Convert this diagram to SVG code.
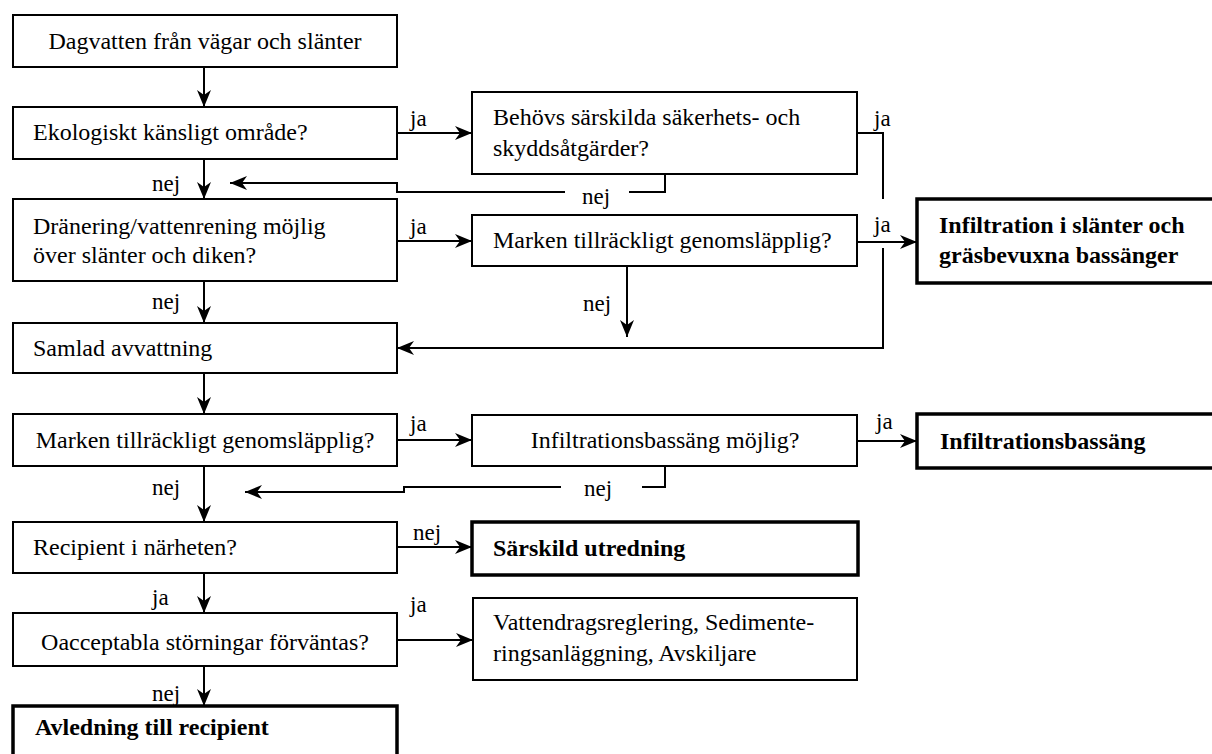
<svg xmlns="http://www.w3.org/2000/svg" width="1212" height="754" viewBox="0 0 1212 754">
<style>
.box{fill:#fff;stroke:#000;stroke-width:2}
.bold{fill:#fff;stroke:#000;stroke-width:3.5}
.t{font-family:"Liberation Serif",serif;font-size:24px;fill:#000}
.tb{font-family:"Liberation Serif",serif;font-size:24px;font-weight:bold;fill:#000}
.lbl{font-family:"Liberation Serif",serif;font-size:23px;fill:#000}
.c{fill:none;stroke:#000;stroke-width:2}
.ca{fill:none;stroke:#000;stroke-width:2;marker-end:url(#ah)}
</style>
<defs>
<marker id="ah" markerUnits="userSpaceOnUse" markerWidth="17" markerHeight="14" refX="17" refY="7" orient="auto">
<path d="M0,0 L17,7 L0,14 L5,7 z" fill="#000"/>
</marker>
</defs>
<rect width="1212" height="754" fill="#fff"/>
<g id="n1"><rect class="box" x="13" y="15" width="384" height="52"/><text class="t" x="205" y="49" text-anchor="middle">Dagvatten från vägar och slänter</text></g>
<g id="n2"><rect class="box" x="13" y="107" width="384" height="52"/><text class="t" x="33" y="140">Ekologiskt känsligt område?</text></g>
<g id="n3"><rect class="box" x="472" y="92" width="385" height="82"/><text class="t" x="493" y="125">Behövs särskilda säkerhets- och</text><text class="t" x="493" y="156">skyddsåtgärder?</text></g>
<g id="n4"><rect class="box" x="13" y="199" width="384" height="82"/><text class="t" x="33" y="234">Dränering/vattenrening möjlig</text><text class="t" x="33" y="263">över slänter och diken?</text></g>
<g id="n5"><rect class="box" x="472" y="215" width="385" height="51"/><text class="t" x="493" y="248">Marken tillräckligt genomsläpplig?</text></g>
<g id="n6"><rect class="bold" x="917" y="199" width="310" height="84"/><text class="tb" x="939" y="233">Infiltration i slänter och</text><text class="tb" x="939" y="263">gräsbevuxna bassänger</text></g>
<g id="n7"><rect class="box" x="13" y="323" width="384" height="50"/><text class="t" x="33" y="356">Samlad avvattning</text></g>
<g id="n8"><rect class="box" x="13" y="414" width="384" height="52"/><text class="t" x="205" y="448" text-anchor="middle">Marken tillräckligt genomsläpplig?</text></g>
<g id="n9"><rect class="box" x="472" y="415" width="385" height="51"/><text class="t" x="665" y="448" text-anchor="middle">Infiltrationsbassäng möjlig?</text></g>
<g id="n10"><rect class="bold" x="917" y="414" width="310" height="54"/><text class="tb" x="940" y="449">Infiltrationsbassäng</text></g>
<g id="n11"><rect class="box" x="13" y="522" width="384" height="51"/><text class="t" x="33" y="555">Recipient i närheten?</text></g>
<g id="n12"><rect class="bold" x="472" y="522" width="386" height="53"/><text class="tb" x="493" y="556">Särskild utredning</text></g>
<g id="n13"><rect class="box" x="13" y="613" width="384" height="53"/><text class="t" x="205" y="650" text-anchor="middle">Oacceptabla störningar förväntas?</text></g>
<g id="n14"><rect class="box" x="473" y="598" width="384" height="82"/><text class="t" x="493" y="630">Vattendragsreglering, Sedimente-</text><text class="t" x="493" y="661">ringsanläggning, Avskiljare</text></g>
<g id="n15"><rect class="bold" x="13" y="706" width="384" height="60"/><text class="tb" x="35" y="735">Avledning till recipient</text></g>
<g id="connectors">
<path class="ca" d="M204,67 V107"/>
<path class="ca" d="M397,133 H472"/>
<path class="ca" d="M204,159 V199"/>
<path class="c" d="M665,174 V192 H629"/>
<path class="ca" d="M565,192 H397 V183 H230"/>
<path class="c" d="M857,133 H883 V199"/>
<path class="ca" d="M397,241 H472"/>
<path class="ca" d="M857,242 H917"/>
<path class="ca" d="M883,248 V348 H397"/>
<path class="ca" d="M627,266 V337"/>
<path class="ca" d="M204,281 V323"/>
<path class="ca" d="M204,373 V414"/>
<path class="ca" d="M397,440 H472"/>
<path class="ca" d="M857,441 H917"/>
<path class="c" d="M665,466 V487 H642"/>
<path class="ca" d="M561,487 H404 V492 H245"/>
<path class="ca" d="M204,466 V522"/>
<path class="ca" d="M397,547 H472"/>
<path class="ca" d="M204,573 V613"/>
<path class="ca" d="M397,640 H473"/>
<path class="ca" d="M204,666 V706"/>
<text class="lbl" x="410" y="126">ja</text>
<text class="lbl" x="152" y="191">nej</text>
<text class="lbl" x="582" y="204">nej</text>
<text class="lbl" x="874" y="126">ja</text>
<text class="lbl" x="410" y="234">ja</text>
<text class="lbl" x="874" y="232">ja</text>
<text class="lbl" x="583" y="311">nej</text>
<text class="lbl" x="152" y="309">nej</text>
<text class="lbl" x="410" y="431">ja</text>
<text class="lbl" x="876" y="429">ja</text>
<text class="lbl" x="584" y="496">nej</text>
<text class="lbl" x="152" y="495">nej</text>
<text class="lbl" x="413" y="540">nej</text>
<text class="lbl" x="152" y="605">ja</text>
<text class="lbl" x="410" y="612">ja</text>
<text class="lbl" x="152" y="701">nej</text>
</g>
</svg>
